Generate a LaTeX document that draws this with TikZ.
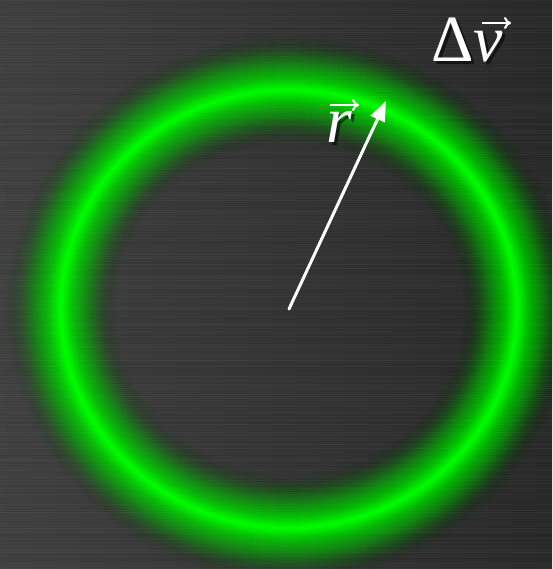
\documentclass[tikz,border=0pt]{standalone}
\usepackage{fontspec}
\setmainfont{Liberation Serif}
\usetikzlibrary{arrows.meta,positioning,calc}

\begin{document}
\begin{tikzpicture}[x=1pt,y=-1pt,>={Triangle[length=20pt,width=15pt]}]
\tikzstyle{vlabel}=[inner sep=0pt, anchor=base west, text=white, font=\fontsize{66}{66}\selectfont]
\tikzstyle{vshadow}=[inner sep=0pt, anchor=base west, text=black, opacity=0.55, font=\fontsize{66}{66}\selectfont]
\tikzstyle{accent}=[white, line width=2.2pt, -{To[length=7pt,width=12pt]}]
\tikzstyle{ring}=[green, x radius=228pt, y radius=219pt]
% background
\useasboundingbox (0,0) rectangle (552,569);
\shade[left color=black!75, right color=black!84] (0,0) rectangle (552,569);
\pgfmathsetseed{11}
\foreach \y in {0,2,...,568}{
  \pgfmathsetmacro\o{rnd*0.05}
  \pgfmathsetmacro\p{rnd*0.06}
  \fill[white, opacity=\o] (0,\y) rectangle (552,\y+1);
  \fill[black, opacity=\p] (0,\y+1) rectangle (552,\y+2);
}
\coordinate (ctr) at (289,309);
\coordinate (tip) at (386,101);
% glowing ring: wide halo times bright core
\foreach \h in {56,55,...,1}{
  \pgfmathsetmacro\Aout{1-(1-0.68*exp(-pow((\h+1)/34,3)))*(1-0.9*exp(-pow((\h+1)/10,2)))}
  \pgfmathsetmacro\Ain{1-(1-0.68*exp(-pow(\h/34,3)))*(1-0.9*exp(-pow(\h/10,2)))}
  \pgfmathsetmacro\a{1-(1-\Ain)/(1-\Aout)}
  \draw[ring, opacity=\a, line width=\h*2pt] (ctr) ellipse[];
}
\draw[ring, opacity=0.5, line width=3pt] (ctr) ellipse[];
% labels
\node[vshadow] (dvs) at (434,65) {Δ\textit{v}};
\node[vlabel] (dv) at (431,62) {Δ\textit{v}};
\node[vshadow] (rs) at (329,146) {\textit{r}};
\node[vlabel] (r) at (326,143) {\textit{r}};
\draw[accent] ($(dv.base west)+(51,-39)$) -- ($(dv.base west)+(80,-39)$);
\draw[accent] ($(r.base west)+(4,-38)$) -- ($(r.base west)+(33,-38)$);
% radius vector
\draw[->, white, line width=3pt, line cap=round] (ctr) -- (tip);
\end{tikzpicture}
\end{document}
